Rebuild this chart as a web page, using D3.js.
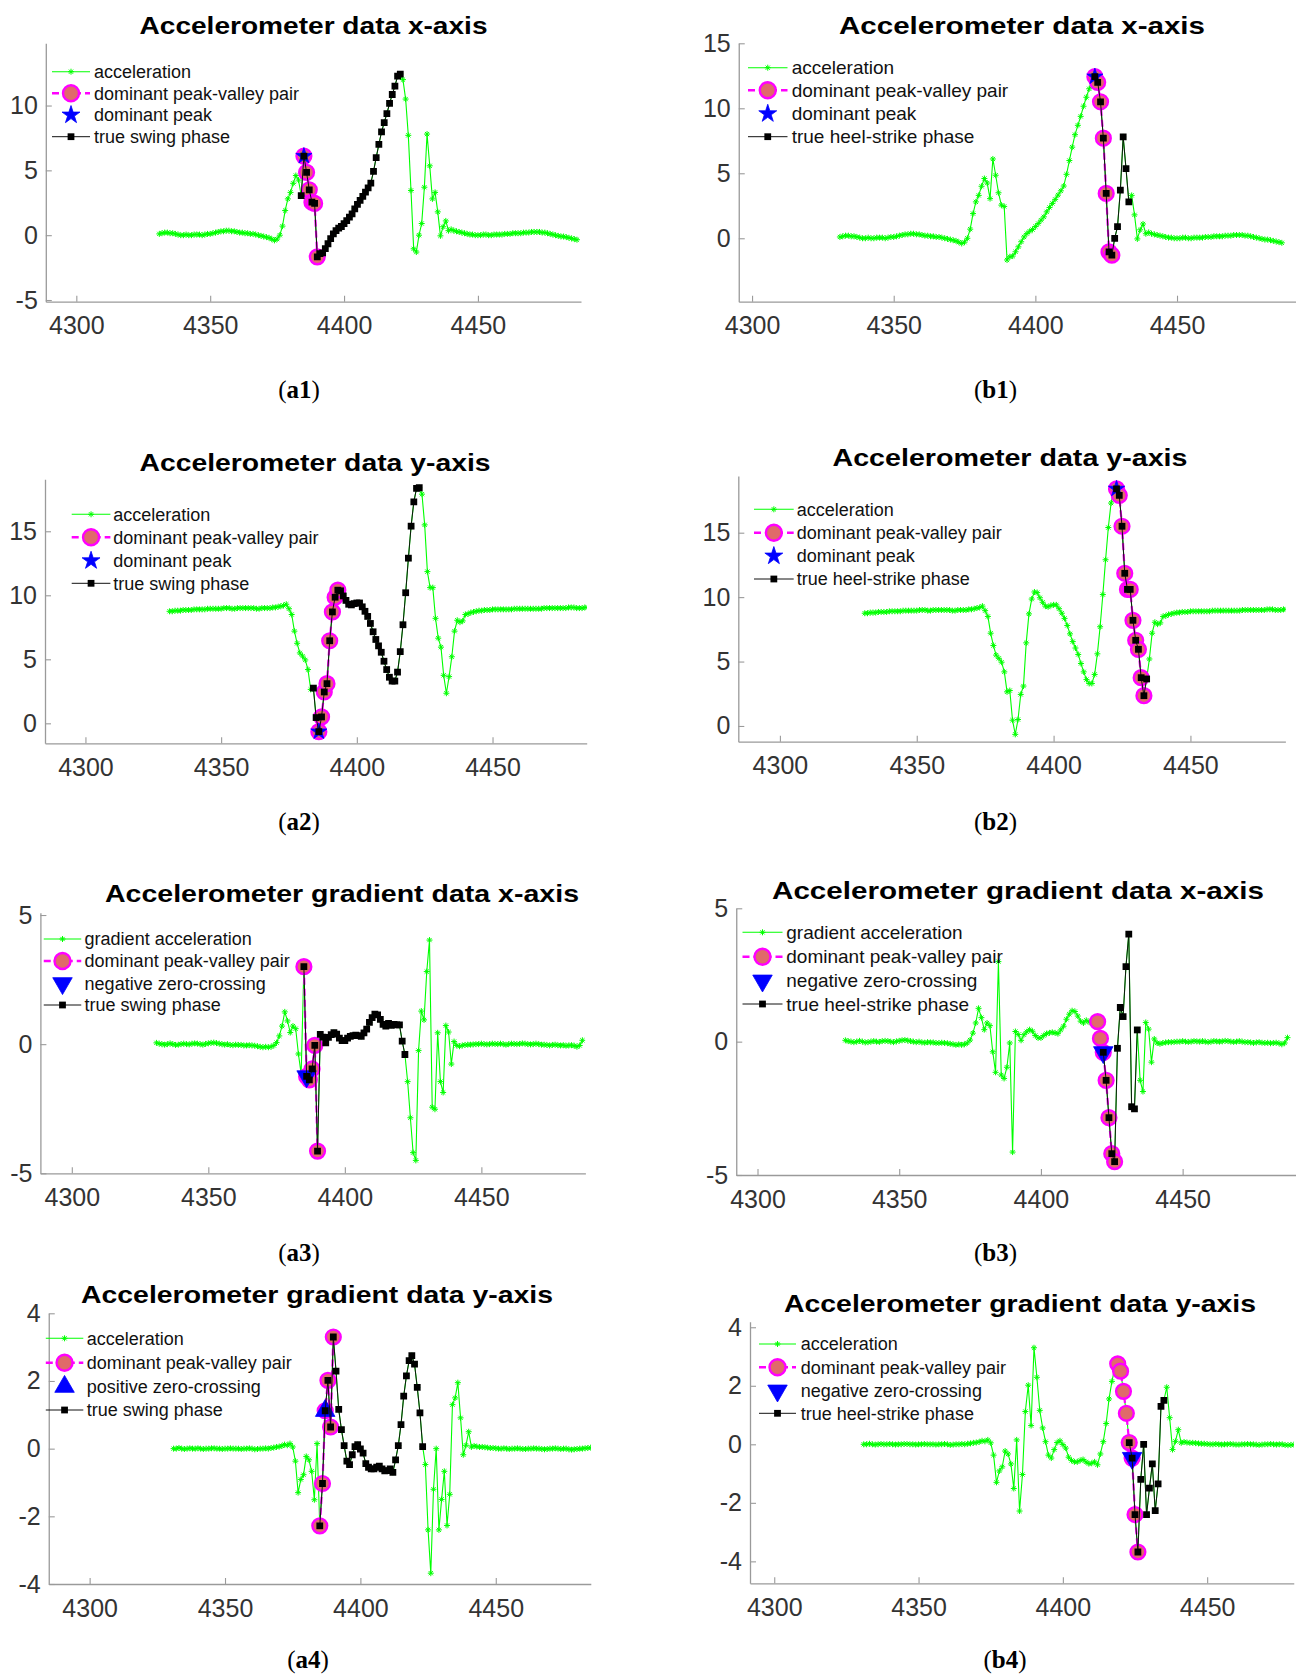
<!DOCTYPE html>
<html>
<head>
<meta charset="utf-8">
<script src="https://cdn.jsdelivr.net/npm/d3@7"></script>
<style>
  body { margin: 0; background: #fff; }
  svg { display: block; }
</style>
</head>
<body>
<svg id="fig" width="1296" height="1677"></svg>
<script>
// ---------------------------------------------------------------
// Sample window: samples 4331 ... 4487 (157 samples)
// ---------------------------------------------------------------
const sampleStart = 4331;

// x-axis acceleration
const accelX = [
  0.1,0.15,0.2,0.2,0.15,0.15, 0.1,0.05,0.0,0.0,0.05,0.0, 0.0,0.05,0.05,0.05,0.0,0.05,
  0.1,0.1,0.15,0.2,0.25,0.3, 0.3,0.35,0.35,0.3,0.3,0.25, 0.2,0.2,0.15,0.15,0.1,0.1,
  0.05,0.0,-0.05,-0.1,-0.15,-0.2, -0.3,-0.4,
  -0.3,0.0,0.7,1.9,2.8,3.3,4.0,4.6,4.25,3.05,6.1,4.85,3.5,2.55,2.45,
  -1.67,-1.42,-1.37,-1.04,-0.66,-0.27,0.1,0.36,0.54,0.67,0.9,1.13,1.39,1.65,2.03,2.37,
  2.68,2.99,3.32,3.65,4.02,4.92,5.98,7.01,7.97,8.69,9.38,10.16,10.85,11.5,12.27,12.43,
  12.0,10.5,7.7,3.45,-1.05,-1.3,0.0,0.9,3.7,7.8,5.35,2.8,3.3,1.8,-0.05,0.65,1.1,0.35,0.45,
  0.35,0.3,0.25,0.2,0.15,0.1, 0.05,0.05,0.0,0.0,0.0,0.05, 0.05,0.0,0.0,0.05,0.05,0.05,
  0.05,0.1,0.1,0.1,0.15,0.15,
  0.15,0.15,0.2,0.2,0.2,0.25,0.25,0.25,0.25,0.2,0.2,0.15,0.1,0.05,0.0,-0.05,-0.1,-0.1,
  -0.15,-0.2,-0.25,-0.3,-0.35
];

// y-axis acceleration
const accelY = [
  8.75,8.75,8.8,8.8,8.8,8.85, 8.85,8.85,8.85,8.9,8.9,8.9, 8.9,8.9,8.95,8.95,8.95,8.95,
  8.95,8.95,9.0,9.0,9.0,8.95, 8.95,9.0,9.0,9.0,9.0,9.0, 9.0,9.0,8.95,8.95,9.0,9.0,
  9.0,9.0,9.05,9.05,9.1,9.15,
  9.2,9.3,8.95,8.5,7.2,6.25,5.5,5.25,4.95,4.2,2.65,2.75,0.45,
  -0.65,0.5,2.45,3.1,6.45,8.7,9.85,10.4, 10.35,9.95,9.6,9.3,9.25,9.35,9.4,9.4,
  9.1,8.75,8.35,7.8,7.15,6.55,6.05,5.55, 4.85,4.2,3.6,3.3,3.3,4.0,5.6,7.7,
  10.2,12.9,15.4,17.3,18.35,18.4,
  17.9,15.5,11.85,10.6,10.6,8.2,6.65,5.95,3.75,2.35,3.65,5.2,7.2,8.05,7.9,8.0,8.5,8.55,
  8.65,8.7,8.75,8.8,8.8,8.85, 8.85,8.85,8.9,8.9,8.9,8.9, 8.9,8.9,8.9,8.9,8.95,8.95,
  8.95,8.95,8.95,8.95,8.95,8.95, 8.95,8.95,8.95,9.0,9.0,9.0, 9.0,9.0,9.0,9.0,9.0,9.0,
  9.05,9.05,9.05,9.0,9.0,9.0, 9.05,9.05,9.05,9.05
];

// gradient of x-axis acceleration
const gradX = [
  0.05,0.02,0.0,-0.02,0.0,0.03,0.0,-0.03,-0.02,0.0, 0.02,0.0,-0.01,0.02,0.03,0.02,0.0,-0.02,0.01,0.03,
  0.05,0.06,0.04,0.02,0.0,-0.02,0.0,-0.03,-0.04,-0.02, -0.03,-0.03,-0.05,-0.05,-0.04,-0.05,-0.06,-0.08,-0.1,-0.12,
  -0.1,
  -0.12,-0.1,-0.05,0.06,0.32,0.7,1.25,0.9,0.45,0.7,0.6,-0.38,-1.15,
  3.0,-1.25,-1.38,-0.96,-0.05,-4.14,
  0.38,0.27,0.05,0.26,0.37,0.45,0.39,0.23,0.14,0.14,0.23,0.3,0.33,0.35,0.33,0.3,
  0.44,0.58,0.84,1.03,1.16,1.13,0.96,0.77,0.7,0.8,0.73,0.77,0.75,0.75,0.12,
  -0.4,-1.45,-2.85,-4.2,-4.5,-0.25,1.28,0.94,2.81,4.03,-2.44,-2.52,0.44,-1.45,-1.87,0.72,0.47,-0.77,0.1,
  -0.05,-0.08,-0.05,-0.03,-0.02,-0.02,-0.01,0.0,0.0,0.02, 0.0,-0.01,0.0,0.02,0.01,0.0,0.02,0.0,-0.02,0.0,
  0.02,0.01,0.0,0.01,0.03,0.02,0.0,-0.01,0.0,0.02, 0.0,-0.02,-0.02,-0.03,-0.05,-0.03,-0.02,-0.04,-0.05,-0.04,
  -0.06,-0.05,-0.04,-0.06,-0.1,-0.05,0.15
];

// gradient of y-axis acceleration
const gradY = [
  0.0,0.0,0.02,0.0,-0.01,0.0, 0.01,0.0,0.0,0.01,0.0,-0.01, 0.0,0.0,0.01,0.01,0.0,0.0,
  -0.01,0.0,0.0,0.01,0.0,0.0, 0.0,-0.01,0.0,0.0,0.01,0.0, -0.02,-0.01,0.0,0.0,0.01,0.0,
  0.02,0.03,0.05,0.06,0.08,0.12, 0.1,
  0.15,0.05,-0.37,-1.3,-0.91,-0.77,-0.23,-0.33,-0.67,-1.51,0.15,-2.28,
  -1.03,1.12,2.02,0.64,3.3,
  2.29,1.16,0.56,0.09,-0.37,-0.47,-0.18,0.06,0.12,-0.01, -0.13,-0.44,-0.55,-0.6,-0.6,-0.55,-0.52,-0.6,-0.66,-0.65,
  -0.6,-0.7,-0.33,0.09,0.71,1.55,2.15,2.6,2.75,2.5, 1.81,1.06,0.06,
  -0.47,-2.4,-3.68,-1.2,0.0,-2.4,-1.5,-0.67,-2.27,-1.35,1.3,1.5,1.95,0.91,-0.18,0.1,0.5,0.05,
  0.08,0.06,0.05,0.05,0.04,0.03, 0.02,0.02,0.01,0.0,0.0,0.01, 0.0,-0.01,0.0,0.0,0.01,0.0,
  -0.01,-0.01,0.0,0.0,0.01,0.0, 0.0,-0.01,-0.02,-0.01,0.0,0.0, 0.01,0.0,-0.01,0.0,0.0,-0.02,
  -0.03,-0.02,-0.01,0.0,0.0,0.01, 0.02,0.03,0.02,0.01
];

// Panels, in order a1 b1 a2 b2 a3 b3 a4 b4
const panelIds   = ['a1','b1','a2','b2','a3','b3','a4','b4'];
const panelData  = [accelX, accelX, accelY, accelY, gradX, gradX, gradY, gradY];
const titles = [
  'Accelerometer data x-axis', 'Accelerometer data x-axis',
  'Accelerometer data y-axis', 'Accelerometer data y-axis',
  'Accelerometer gradient data x-axis', 'Accelerometer gradient data x-axis',
  'Accelerometer gradient data y-axis', 'Accelerometer gradient data y-axis'
];
const legendLabels = [
  ['acceleration','dominant peak-valley pair','dominant peak','true swing phase'],
  ['acceleration','dominant peak-valley pair','dominant peak','true heel-strike phase'],
  ['acceleration','dominant peak-valley pair','dominant peak','true swing phase'],
  ['acceleration','dominant peak-valley pair','dominant peak','true heel-strike phase'],
  ['gradient acceleration','dominant peak-valley pair','negative zero-crossing','true swing phase'],
  ['gradient acceleration','dominant peak-valley pair','negative zero-crossing','true heel-strike phase'],
  ['acceleration','dominant peak-valley pair','positive zero-crossing','true swing phase'],
  ['acceleration','dominant peak-valley pair','negative zero-crossing','true heel-strike phase']
];
// marker kind for the single key point of each panel
const keyMarkers = ['star','star','star','star','triDown','triDown','triUp','triDown'];
// sample ranges [first, last]
const pairRanges  = [[4385,4390],[4421,4427],[4386,4393],[4423,4433],[4385,4390],[4420,4426],[4385,4390],[4419,4426]];
const keySamples  = [4385, 4421, 4386, 4423, 4386, 4422, 4387, 4424];
const phaseRanges = [[4384,4421],[4421,4433],[4384,4423],[4423,4434],[4385,4422],[4422,4434],[4385,4423],[4423,4435]];
// axis ticks
const xTickValues = [4300, 4350, 4400, 4450];
const yTickSets = [
  [-5,0,5,10], [0,5,10,15], [0,5,10,15], [0,5,10,15],
  [-5,0,5], [-5,0,5], [-4,-2,0,2,4], [-4,-2,0,2,4]
];
const xDomains = [
  [4288.6,4488.5],[4295.3,4492.0],[4285.1,4484.7],[4284.8,4484.7],
  [4288.5,4488.1],[4292.5,4490.0],[4284.9,4485.1],[4291.6,4480.0]
];
const yDomains = [
  [-5.13,14.8],[-4.88,15],[-1.56,19.06],[-1.22,19.4],
  [-5,5.09],[-5,5],[-4,4],[-4.75,4.19]
];

// ---------------------------------------------------------------
// Page geometry for each panel
// ---------------------------------------------------------------
const frames = [
  {x0:45.8,  x1:581,    y0:43.3,   y1:301.7,  tx:313.5, ty:34,     tw:348, lx0:52,   lx1:90,    lt:94,    rows:[71.7,93.3,115,136.7],       fs:18, cx:299,   cy:398},
  {x0:738.75,x1:1296,   y0:43.3,   y1:301.7,  tx:1022,  ty:33.5,   tw:366, lx0:748,  lx1:787.5, lt:791.7, rows:[67.7,90.3,113.7,136.7],     fs:19, cx:995.5, cy:398},
  {x0:45,    x1:586.7,  y0:479.3,  y1:743.3,  tx:315,   ty:470.5,  tw:351, lx0:71.7, lx1:110.4, lt:113.3, rows:[514.3,537.3,560.7,583.3],   fs:18, cx:299,   cy:830},
  {x0:738.3, x1:1285.4, y0:476,    y1:741.7,  tx:1010,  ty:466,    tw:355, lx0:754,  lx1:793.7, lt:796.7, rows:[509.3,532.7,556,579],       fs:18, cx:995.5, cy:830},
  {x0:40.4,  x1:585.4,  y0:912.7,  y1:1173.3, tx:342,   ty:901.7,  tw:474, lx0:43.75,lx1:81.25, lt:84.6,  rows:[939,961,983.3,1005],        fs:18, cx:299,   cy:1261},
  {x0:736.25,x1:1296,   y0:908.3,  y1:1175,   tx:1018,  ty:899.3,  tw:492, lx0:742.5,lx1:782.5, lt:786.25,rows:[932.3,956.7,980.7,1004],    fs:19, cx:995.5, cy:1261},
  {x0:48.75, x1:590.8,  y0:1313.3, y1:1584,   tx:317,   ty:1303,   tw:472, lx0:45.8, lx1:83.3,  lt:86.7,  rows:[1338.3,1362.7,1386.7,1410], fs:18, cx:308,   cy:1668},
  {x0:750,   x1:1293.75,y0:1321.7, y1:1583.3, tx:1020,  ty:1311.7, tw:472, lx0:759,  lx1:796,   lt:800.8, rows:[1344,1367.3,1390.7,1413.3], fs:18, cx:1005,  cy:1668}
];

// ---------------------------------------------------------------
// Styles
// ---------------------------------------------------------------
const SANS = '"Liberation Sans", Arial, Helvetica, sans-serif';
const SERIF = '"Liberation Serif", "Times New Roman", serif';
const GREEN = '#00ff00';
const MAGENTA = '#ff00ff';
const SALMON = '#e06a6a';
const BLUE = '#0000ff';
const AXIS = '#9a9a9a';
const asteriskPath = 'M-3,0H3M0,-3V3M-2.1,-2.1L2.1,2.1M-2.1,2.1L2.1,-2.1';
const starPath = d3.symbol().type(d3.symbolStar).size(82)();
const starPathLegend = d3.symbol().type(d3.symbolStar).size(100)();
const triPath = d3.symbol().type(d3.symbolTriangle).size(165)();
const squarePath = d3.symbol().type(d3.symbolSquare).size(46)();

const svg = d3.select('#fig');
const defs = svg.append('defs');

function keyShape(sel, kind, legend) {
  if (kind === 'star') {
    sel.attr('d', legend ? starPathLegend : starPath);
  } else {
    sel.attr('d', triPath);
  }
  return sel;
}
function keyRotation(kind) { return kind === 'triDown' ? ' rotate(180)' : ''; }

function drawPanel(k) {
  const F = frames[k];
  const series = panelData[k];
  const pts = series.map((v, i) => ({ t: sampleStart + i, v: v }));
  const x = d3.scaleLinear().domain(xDomains[k]).range([F.x0, F.x1]);
  const y = d3.scaleLinear().domain(yDomains[k]).range([F.y1, F.y0]);
  const g = svg.append('g').attr('class', 'panel-' + panelIds[k]);

  // axes (left and bottom only, ticks pointing inward)
  const fmt = d => String(d);
  const xAxis = d3.axisBottom(x).tickValues(xTickValues).tickSizeInner(-6).tickSizeOuter(0)
    .tickPadding(15).tickFormat(fmt);
  const yAxis = d3.axisLeft(y).tickValues(yTickSets[k]).tickSizeInner(-6).tickSizeOuter(0)
    .tickPadding(8).tickFormat(fmt);
  const gx = g.append('g').attr('transform', `translate(0,${F.y1})`).call(xAxis);
  const gy = g.append('g').attr('transform', `translate(${F.x0},0)`).call(yAxis);
  [gx, gy].forEach(a => {
    a.select('.domain').attr('stroke', AXIS).attr('stroke-width', 1.3);
    a.selectAll('.tick line').attr('stroke', AXIS).attr('stroke-width', 1.1);
    a.selectAll('.tick text').attr('font-family', SANS).attr('font-size', 25).attr('fill', '#333');
  });

  // plotting area
  const clipId = 'clip-' + panelIds[k];
  defs.append('clipPath').attr('id', clipId).append('rect')
    .attr('x', F.x0).attr('y', F.y0 - 40).attr('width', F.x1 - F.x0).attr('height', F.y1 - F.y0 + 80);
  const plot = g.append('g').attr('clip-path', `url(#${clipId})`);
  const line = d3.line().x(d => x(d.t)).y(d => y(d.v));

  // raw signal
  plot.append('path').datum(pts).attr('d', line)
    .attr('fill', 'none').attr('stroke', GREEN).attr('stroke-width', 1.1);
  plot.append('g').selectAll('path').data(pts).join('path')
    .attr('d', asteriskPath)
    .attr('transform', d => `translate(${x(d.t)},${y(d.v)})`)
    .attr('stroke', GREEN).attr('stroke-width', 1).attr('fill', 'none');

  // dominant peak-valley pair
  const pr = pairRanges[k];
  const pair = pts.filter(d => d.t >= pr[0] && d.t <= pr[1]);
  plot.append('path').datum(pair).attr('d', line)
    .attr('fill', 'none').attr('stroke', MAGENTA).attr('stroke-width', 2.2)
    .attr('stroke-dasharray', '7,4');
  plot.append('g').selectAll('circle').data(pair).join('circle')
    .attr('cx', d => x(d.t)).attr('cy', d => y(d.v)).attr('r', 7.4)
    .attr('fill', SALMON).attr('stroke', MAGENTA).attr('stroke-width', 2.4);

  // key point (dominant peak / zero crossing)
  const kp = pts.find(d => d.t === keySamples[k]);
  keyShape(plot.append('path'), keyMarkers[k], false)
    .attr('transform', `translate(${x(kp.t)},${y(kp.v)})${keyRotation(keyMarkers[k])}`)
    .attr('fill', BLUE).attr('stroke', BLUE).attr('stroke-width', 0.8);

  // true phase
  const ph = phaseRanges[k];
  const phase = pts.filter(d => d.t >= ph[0] && d.t <= ph[1]);
  plot.append('path').datum(phase).attr('d', line)
    .attr('fill', 'none').attr('stroke', '#111').attr('stroke-width', 1);
  plot.append('g').selectAll('path').data(phase).join('path')
    .attr('d', squarePath)
    .attr('transform', d => `translate(${x(d.t)},${y(d.v)})`)
    .attr('fill', '#000');

  // title
  g.append('text').attr('x', F.tx).attr('y', F.ty)
    .attr('text-anchor', 'middle').attr('font-family', SANS).attr('font-weight', 'bold')
    .attr('font-size', 24).attr('textLength', F.tw).attr('lengthAdjust', 'spacingAndGlyphs')
    .attr('fill', '#000').text(titles[k]);

  // legend
  const lg = g.append('g');
  const lm = (F.lx0 + F.lx1) / 2;
  const labels = legendLabels[k];
  F.rows.forEach((ry, r) => {
    if (r === 0) {
      lg.append('line').attr('x1', F.lx0).attr('x2', F.lx1).attr('y1', ry).attr('y2', ry)
        .attr('stroke', GREEN).attr('stroke-width', 1.1);
      lg.append('path').attr('d', asteriskPath).attr('transform', `translate(${lm},${ry})`)
        .attr('stroke', GREEN).attr('stroke-width', 1);
    } else if (r === 1) {
      lg.append('line').attr('x1', F.lx0).attr('x2', F.lx1).attr('y1', ry).attr('y2', ry)
        .attr('stroke', MAGENTA).attr('stroke-width', 2.4).attr('stroke-dasharray', '7,4');
      lg.append('circle').attr('cx', lm).attr('cy', ry).attr('r', 8)
        .attr('fill', SALMON).attr('stroke', MAGENTA).attr('stroke-width', 2.4);
    } else if (r === 2) {
      keyShape(lg.append('path'), keyMarkers[k], true)
        .attr('transform', `translate(${lm},${ry})${keyRotation(keyMarkers[k])}`)
        .attr('fill', BLUE).attr('stroke', BLUE).attr('stroke-width', 0.8);
    } else {
      lg.append('line').attr('x1', F.lx0).attr('x2', F.lx1).attr('y1', ry).attr('y2', ry)
        .attr('stroke', '#111').attr('stroke-width', 1);
      lg.append('path').attr('d', squarePath).attr('transform', `translate(${lm},${ry})`)
        .attr('fill', '#000');
    }
    lg.append('text').attr('x', F.lt).attr('y', ry).attr('dy', '0.35em')
      .attr('font-family', SANS).attr('font-size', F.fs).attr('fill', '#111')
      .text(labels[r]);
  });

  // sub-figure label
  const cap = g.append('text').attr('x', F.cx).attr('y', F.cy)
    .attr('text-anchor', 'middle').attr('font-family', SERIF).attr('font-size', 25).attr('fill', '#000');
  cap.append('tspan').text('(');
  cap.append('tspan').attr('font-weight', 'bold').text(panelIds[k]);
  cap.append('tspan').text(')');
}

panelIds.forEach((id, k) => drawPanel(k));
</script>
</body>
</html>
